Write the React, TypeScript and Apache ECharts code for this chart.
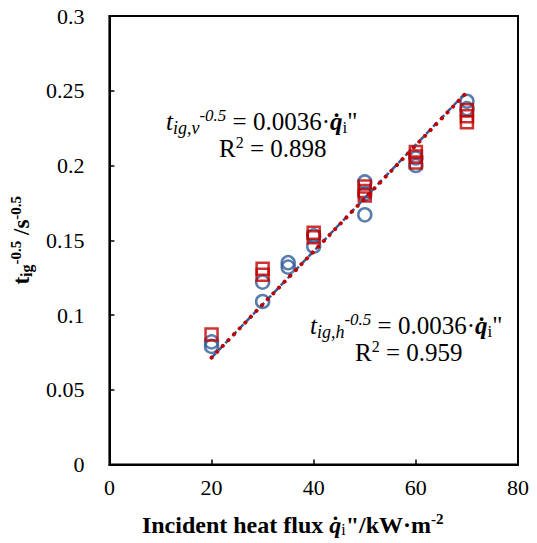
import React, { useEffect, useRef } from "react";
import * as echarts from "echarts";

const hX = [20, 20, 30, 30, 35, 35, 40, 40, 50, 50, 50, 60, 60, 70, 70];
const hY = [0.082, 0.079, 0.122, 0.109, 0.135, 0.132, 0.146, 0.153, 0.189, 0.181, 0.167, 0.2, 0.205, 0.243, 0.238];
const vX = [20, 30, 30, 40, 40, 50, 50, 50, 60, 60, 60, 70, 70, 70];
const vY = [0.087, 0.131, 0.127, 0.155, 0.152, 0.186, 0.183, 0.18, 0.209, 0.206, 0.202, 0.237, 0.233, 0.229];
const fitX = [20, 70];
const fitH = [0.0715, 0.2495];
const fitV = [0.0715, 0.249];
const xTicks = [0, 20, 40, 60, 80];
const yTicks = [0, 0.05, 0.1, 0.15, 0.2, 0.25, 0.3];

const RED = "#c00000";
const BLUE = "#2f5d98";
const LBLUE = "#6a9ad8";
const FONT = "Liberation Serif";

function eqRich(color: string, indent: number) {
  return {
    it: { fontFamily: FONT, fontStyle: "italic", fontSize: 25, color, lineHeight: 27 },
    sub: { fontFamily: FONT, fontStyle: "italic", fontSize: 18, color, lineHeight: 10, padding: [13, 0, 0, 0] },
    sup: { fontFamily: FONT, fontStyle: "italic", fontSize: 17, color, lineHeight: 10, padding: [0, 0, 13, 0] },
    n: { fontFamily: FONT, fontSize: 25, color, lineHeight: 27 },
    r: { fontFamily: FONT, fontSize: 25, color, lineHeight: 27, padding: [0, 0, 0, indent] },
    q: { fontFamily: FONT, fontStyle: "italic", fontWeight: "bold", fontSize: 25, color, lineHeight: 27 },
    si: { fontFamily: FONT, fontSize: 17, color, lineHeight: 10, padding: [11, 0, 0, 0] },
    s2: { fontFamily: FONT, fontSize: 16, color, lineHeight: 10, padding: [0, 0, 13, 0] },
  };
}

export default function App() {
  const ref = useRef<HTMLDivElement>(null);
  useEffect(() => {
    if (!ref.current) return;
    const chart = echarts.init(ref.current, null, { renderer: "svg" });
    chart.setOption({
      animation: false,
      backgroundColor: "#fff",
      textStyle: { fontFamily: FONT },
      grid: { left: 107, right: 19, top: 16, bottom: 78, show: true, borderColor: "#000", borderWidth: 2 },
      xAxis: {
        type: "value",
        min: xTicks[0],
        max: xTicks[xTicks.length - 1],
        interval: 20,
        axisLine: { show: true, lineStyle: { color: "#000", width: 2 } },
        axisTick: { show: true, inside: true, length: 5, lineStyle: { color: "#000", width: 1.5 } },
        splitLine: { show: false },
        axisLabel: { fontFamily: FONT, fontSize: 22, color: "#000", margin: 12 },
        name: "{n|Incident heat flux }{q|q̇}{s|i}{n|\"/kW·m}{p|-2}",
        nameLocation: "middle",
        nameGap: 48,
        nameTextStyle: {
          padding: [0, 42, 0, 0],
          rich: {
            n: { fontFamily: FONT, fontWeight: "bold", fontSize: 24, color: "#000", lineHeight: 24 },
            q: { fontFamily: FONT, fontWeight: "bold", fontStyle: "italic", fontSize: 24, color: "#000", lineHeight: 24 },
            s: { fontFamily: FONT, fontSize: 16, color: "#000", lineHeight: 10, padding: [10, 0, 0, 0] },
            p: { fontFamily: FONT, fontWeight: "bold", fontSize: 15, color: "#000", lineHeight: 10, padding: [0, 0, 12, 0] },
          },
        },
      },
      yAxis: {
        type: "value",
        min: yTicks[0],
        max: yTicks[yTicks.length - 1],
        interval: 0.05,
        axisLine: { show: true, lineStyle: { color: "#000", width: 2 } },
        axisTick: { show: true, inside: true, length: 5, lineStyle: { color: "#000", width: 1.5 } },
        splitLine: { show: false },
        axisLabel: { fontFamily: FONT, fontSize: 22, color: "#000", margin: 25 },
        name: "{t|t}{s|ig}{p|-0.5}{t| /s}{p|-0.5}",
        nameLocation: "middle",
        nameGap: 72,
        nameTextStyle: {
          rich: {
            t: { fontFamily: FONT, fontWeight: "bold", fontSize: 23, color: "#000", lineHeight: 24 },
            s: { fontFamily: FONT, fontWeight: "bold", fontSize: 16, color: "#000", lineHeight: 10, padding: [10, 0, 0, 0] },
            p: { fontFamily: FONT, fontWeight: "bold", fontSize: 15, color: "#000", lineHeight: 10, padding: [0, 0, 12, 0] },
          },
        },
      },
      series: [
        {
          type: "scatter",
          data: hX.map((x, i) => [x, hY[i]]),
          symbol: "circle",
          symbolSize: 13,
          itemStyle: { color: "rgba(0,0,0,0)", borderColor: BLUE, borderWidth: 2.5 },
          z: 2,
        },
        {
          type: "scatter",
          data: vX.map((x, i) => [x, vY[i]]),
          symbol: "rect",
          symbolSize: 12,
          itemStyle: { color: "rgba(0,0,0,0)", borderColor: RED, borderWidth: 2.5 },
          z: 3,
        },
        {
          type: "line",
          data: fitX.map((x, i) => [x, fitH[i]]),
          symbol: "none",
          lineStyle: { color: BLUE, width: 2.5, type: [6, 4] },
          z: 4,
        },
        {
          type: "line",
          data: fitX.map((x, i) => [x, fitV[i]]),
          symbol: "none",
          lineStyle: { color: RED, width: 4, type: [0.1, 8], cap: "round" },
          z: 5,
        },
      ],
      graphic: [
        {
          type: "text",
          x: 166,
          y: 108,
          style: {
            text: "{it|t}{sub|ig,v}{sup|-0.5}{n| = 0.0036·}{q|q̇}{si|i}{n|\"}\n{r|R}{s2|2}{n| = 0.898}",
            rich: eqRich(RED, 53),
          },
        },
        {
          type: "text",
          x: 310,
          y: 312,
          style: {
            text: "{it|t}{sub|ig,h}{sup|-0.5}{n| = 0.0036·}{q|q̇}{si|i}{n|\"}\n{r|R}{s2|2}{n| = 0.959}",
            rich: eqRich(LBLUE, 45),
          },
        },
      ],
    });
    return () => chart.dispose();
  }, []);
  return <div ref={ref} style={{ width: 537, height: 543, marginLeft: -8, marginTop: -8 }} />;
}
